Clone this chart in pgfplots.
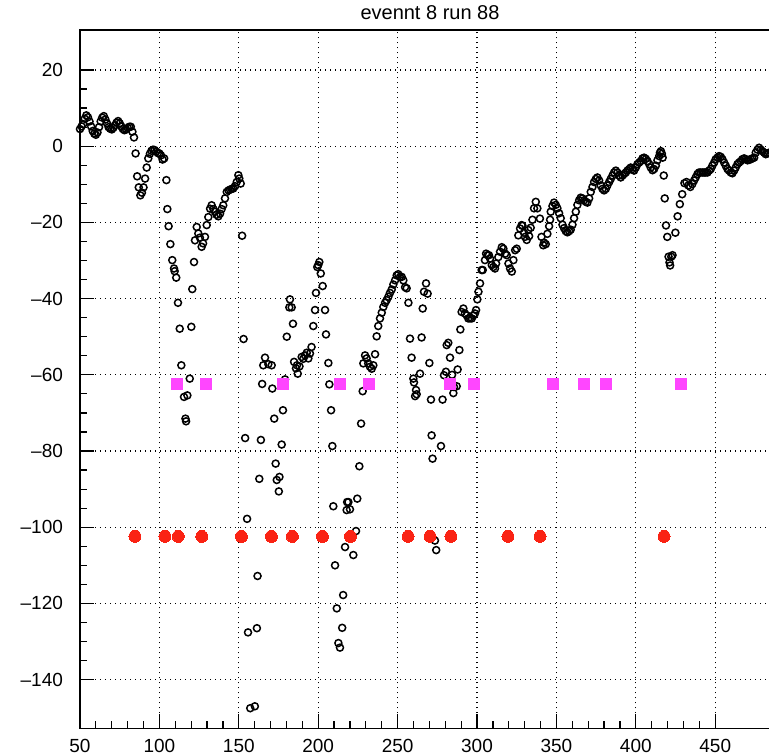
\documentclass[border=0pt]{standalone}
\usepackage{fontspec}
\setmainfont{Liberation Sans}
\usepackage{pgfplots}
\pgfplotsset{compat=1.18}
\definecolor{rootred}{RGB}{250,35,20}
\definecolor{rootmag}{RGB}{255,70,255}
\begin{document}
\begin{tikzpicture}
\useasboundingbox (-40pt,-13pt) rectangle (344.5pt,364.2pt);
\begin{axis}[
  at={(0,0)}, anchor=south west,
  scale only axis, width=346.2pt, height=349.2pt,
  xmin=50, xmax=486, ymin=-152.8, ymax=30.5,
  xtick={50,100,...,450},
  xticklabels={50,100,150,200,250,300,350,400,450},
  ytick={-140,-120,...,20},
  yticklabels={--140,--120,--100,--80,--60,--40,--20,0,20},
  minor x tick num=4, minor y tick num=3,
  tick pos=left, tick align=inside,
  major tick length=7pt, minor tick length=3.5pt,
  every tick/.style={black, line width=0.6pt},
  axis line style={line width=0.8pt},
  grid=major,
  major grid style={black, line width=0.6pt, dash pattern=on 0.6pt off 1.9pt},
  ticklabel style={font=\fontsize{9.5}{11}\selectfont},
  xticklabel style={yshift=-2pt},
  yticklabel style={xshift=-5pt},
  clip=true,
]
\addplot[only marks, mark=o, mark size=1.75pt, mark options={line width=0.75pt, black}] coordinates {
(50,4.5)(51,5.2)(52,5.8)(53,7.2)(54,8.1)(55,7.6)(56,6.5)(57,5.2)(58,4.0)(59,3.3)
(60,3.0)(61,3.6)(62,5.0)(63,6.5)(64,7.5)(65,7.9)(66,7.0)(67,6.0)(68,5.0)(69,4.6)
(70,4.4)(71,4.8)(72,5.5)(73,6.2)(74,6.6)(75,6.0)(76,5.2)(77,4.5)(78,4.2)(79,4.4)
(80,4.8)(81,5.1)(82,5.1)(83,3.8)(84,2.3)(85,-1.9)(86,-7.9)(87,-10.8)(88,-12.9)(89,-12.2)
(90,-10.8)(91,-8.5)(92,-5.6)(93,-3.2)(94,-2.0)(95,-1.2)(96,-0.9)(97,-1.0)(98,-1.4)(99,-1.8)
(100,-1.9)(101,-2.4)(102,-3.5)(103,-3.2)
(104.4,-8.9)(105,-16.5)(105.8,-21)(106.9,-25.7)(108.1,-29.9)(109.2,-32.1)(109.6,-32.8)(110.6,-34.5)
(111.7,-41.1)(112.8,-47.9)(113.8,-57.5)(115.5,-65.8)(116.4,-71.5)(116.8,-72.2)(117.6,-65.4)(119.1,-61)
(120.1,-47.4)(120.7,-37.5)(121.8,-30.4)(122.4,-24.7)
(123.5,-21.2)(124.5,-22.9)(125.5,-24)(126.6,-26.4)(127.5,-25.5)(128.7,-23.8)(129.8,-20.7)(130.8,-18.6)
(131.9,-16.4)(132.9,-15.5)(134,-16.5)(135,-17.2)(136,-18)(137.1,-18.4)(138.2,-17.7)(139.2,-16.5)
(140.2,-15.5)(141.3,-13.7)(142.4,-12)(143.5,-11.6)(144.5,-11.4)(145.5,-11.2)(146.5,-11.1)(147.6,-10.5)
(148.7,-9.4)(149.7,-7.6)(150.3,-8.5)(151.2,-9.8)
(152.1,-23.5)(153,-50.6)(154,-76.6)(155.2,-97.8)(155.8,-127.6)(157.2,-147.5)(160.1,-147)(161.4,-126.5)
(161.8,-112.8)(162.9,-87.3)(163.9,-77.1)(164.7,-62.4)(165.4,-57.5)(166.5,-55.5)(168.6,-57.2)(170.7,-57.5)
(171.1,-63.6)(172.3,-71.5)(173.2,-83.3)(173.9,-87.6)(175.2,-90.6)(175.6,-86.8)(177,-78.3)(177.8,-69.3)
(179.1,-61.2)(180.2,-50)(181.8,-42.3)(182.2,-40.2)(183.3,-42.3)(184.1,-46.6)(184.8,-56.6)(186,-58.3)
(186.6,-57.5)(187.1,-59.7)(188.2,-57.8)(189.6,-55.3)(190.6,-55.8)(191.7,-54.9)(192.8,-54.2)(193.8,-55.7)
(194.8,-54.4)(195.8,-52.7)(196.9,-47.2)(198,-43)(198.6,-38.5)(199.4,-31.7)(200,-31.2)(200.7,-30.4)
(201.6,-33.4)(202.8,-36.7)(204.3,-43)(204.9,-49.4)(206.4,-56.9)(207,-62.5)(208.1,-69.3)(208.9,-78.7)
(209.5,-94.5)(210.6,-110)(211.7,-121.3)(212.7,-130.4)(213.7,-131.6)(215.1,-126.4)(215.7,-117.8)(216.9,-105.2)
(217.9,-95.5)(218.2,-93.4)(219,-93.4)(220,-95.3)(222.1,-107.3)(223.8,-101)(224.6,-92.5)(225.9,-84)
(227,-72.8)(228,-64.3)(228.4,-57)(229.5,-54.9)(230.5,-55.7)(231.5,-57)(232.6,-57.9)(233.7,-58.4)
(234.7,-57.5)(235.8,-54.6)(236.8,-49.9)(237.8,-47.2)(238.9,-45.2)(240,-43.7)(241,-42.2)(242.1,-41.1)
(243.1,-40.4)(244.2,-39.5)(245.2,-38.5)(246.3,-37.6)(247.3,-36.3)(248.4,-35.2)(249.4,-33.9)(250.4,-33.6)
(251.5,-34.3)(252.6,-34.3)(253.6,-35.2)(254.7,-37)(255.7,-37.3)(256.8,-41.1)(257.8,-50.5)(258.8,-55.5)
(259.9,-61)(260.3,-62)(261,-65.6)(261.6,-64)(262,-65.1)(264.1,-59.7)(265.1,-50.2)(265.8,-42.6)
(266.6,-38.2)(267.9,-36)(268.9,-38.7)(270,-56.9)(271,-66.5)(271.4,-75.9)(272,-82)(273.5,-103.5)
(274.3,-106)(277.3,-78.7)(278.3,-66.5)(279.2,-60.1)(280.4,-59.2)(280.9,-52.2)(281.9,-51.6)(283,-55.5)
(284.3,-60)(285.1,-64.8)(285.5,-63.2)(287.2,-63)(287.8,-58.6)(288.9,-53.5)(289.5,-48.1)(290.3,-43.5)
(291.4,-42.6)(292.4,-43.9)(293.5,-44.4)(294.5,-45.2)(295.6,-45.2)(296.7,-45.2)(297.7,-44.4)(298.7,-43.9)
(299.4,-43)(300.2,-40.2)(300.9,-38.2)(301.9,-36)(302.9,-32.5)(303.6,-32.5)(305,-29.9)(305.7,-28.2)
(306.6,-28.6)(307.5,-28.6)(308.2,-29.5)(309.3,-31.2)(310.3,-31.7)(311.3,-32.1)(312,-30.8)(313.4,-29.1)
(314.5,-27.7)(315.6,-26.5)(316.6,-26.9)(317.7,-28.2)(318.7,-28.6)(319.8,-30.8)(320.8,-32.1)(321.9,-32.9)
(322.9,-29.9)(324,-27.3)(325,-26.9)(326,-23.4)(327.1,-21.6)(328.1,-20.7)(328.6,-20.9)(329.6,-22.7)
(330.2,-23.8)(331.3,-24.6)(332.3,-22)(332.8,-23.6)(333.8,-21.4)(334.9,-19.3)(335.9,-16.3)(337,-14.6)
(338,-16.3)(339.6,-19)(340.6,-23.8)(341.7,-26)(342.2,-25.3)(343.3,-25.7)(344.3,-23)(345.4,-21)
(346,-19.3)(346.4,-17.2)(347.5,-15.7)(348.5,-14.8)(349.6,-15.4)(350.6,-16.3)(351.7,-17.6)(352.7,-18.9)
(353.8,-20.6)(354.8,-21.5)(355.9,-22.3)(356.9,-22.6)(358,-22.3)(359,-21.9)(360.1,-20.6)(361.1,-18.9)
(362.2,-17.2)(363.2,-15.4)(364.3,-14.2)(365.3,-13.5)(366.4,-13.7)(367.4,-14.2)(368.5,-14.6)(369.5,-14.8)
(370.6,-13.7)(371.6,-12)(372.7,-10.7)(373.7,-9.4)(374.8,-8.6)(375.8,-8.2)(376.9,-9)(377.9,-10.3)
(379,-11.2)(380,-11.6)(381.1,-11.2)(382.1,-10.3)(383.2,-9.4)(384.2,-8.6)(385.3,-7.7)(386.3,-6.9)
(387.4,-6.4)(388.4,-6.9)(389.5,-7.7)(390.5,-8.2)(391.6,-7.7)(392.6,-7.3)(393.7,-6.9)(394.7,-6.4)
(395.8,-6)(396.8,-5.6)(397.9,-6)(398.9,-6.4)(400,-5.6)(401,-4.7)(402.1,-4.3)(403.1,-3.9)
(404.2,-3.2)(405.2,-3)(406.3,-3.3)(407.3,-3.9)(408.4,-4.7)(409.4,-5.6)(410.5,-6.3)(411.5,-6)
(412.6,-5.1)(413.6,-3.7)(414.7,-2.6)(415.2,-1.7)(415.8,-1.3)(416.4,-2)(416.9,-3)
(417.6,-7.7)(418.2,-13.7)(419,-20.8)(419.8,-23.8)(420.6,-29)(421.2,-30.5)(421.6,-31.3)(422.3,-29)
(423.1,-28.6)(424.9,-22.7)(426.3,-18.4)(427.7,-15.2)(429.2,-12.6)
(430.6,-9.7)(431.9,-9.4)(433.1,-10.3)(434.3,-10.7)(435.6,-9.9)(436.7,-9)(437.7,-8.2)(438.8,-7.3)
(439.8,-6.9)(440.9,-6.9)(442,-6.9)(443,-6.9)(444,-6.9)(445.1,-6.9)(446.1,-6.4)(447.2,-6)(448.2,-5.1)
(449.3,-4.3)(450.3,-3.4)(451.4,-3)(452.4,-2.6)(453.5,-2.8)(454.5,-3.4)(455.6,-4.3)(456.6,-5.1)
(457.7,-6)(458.7,-6.4)(459.8,-6.9)(460.8,-7.1)(461.9,-6.4)(462.9,-5.6)(464,-4.7)(465,-4.3)
(466.1,-3.9)(467.1,-3.4)(468.2,-3.2)(469.2,-3.4)(470.3,-3.7)(471.3,-3.6)(472.4,-3.4)(473.4,-3.2)
(474.5,-3)(475.5,-1.7)(476.6,-0.9)(477.6,-0.4)(478.7,-0.9)(479.7,-1.3)(480.8,-1.7)(481.8,-2.1)
(482.9,-1.9)(483.9,-1.7)
};
\addplot[only marks, mark=square*, mark size=2.75pt, color=rootmag, mark options={draw=rootmag, fill=rootmag, line width=0pt}] coordinates {
(111.1,-62.5)(129.4,-62.5)(177.8,-62.5)(213.8,-62.5)(232.2,-62.5)(282.7,-62.5)
(297.8,-62.5)(347.9,-62.5)(367.4,-62.5)(381.2,-62.5)(428.5,-62.5)
};
\addplot[only marks, mark=*, mark size=3pt, color=rootred, mark options={draw=rootred, fill=rootred, line width=0pt}] coordinates {
(84.6,-102.4)(103.5,-102.4)(111.9,-102.4)(126.7,-102.4)(151.6,-102.4)(170.5,-102.4)(183.7,-102.4)(202.6,-102.4)
(220.3,-102.4)(256.6,-102.4)(270.4,-102.4)(283.6,-102.4)(319.5,-102.4)(339.7,-102.4)(417.8,-102.4)
};
\end{axis}
\node[font=\fontsize{10}{12}\selectfont] at (175pt,357.8pt) {evennt 8 run 88};
\end{tikzpicture}
\end{document}
